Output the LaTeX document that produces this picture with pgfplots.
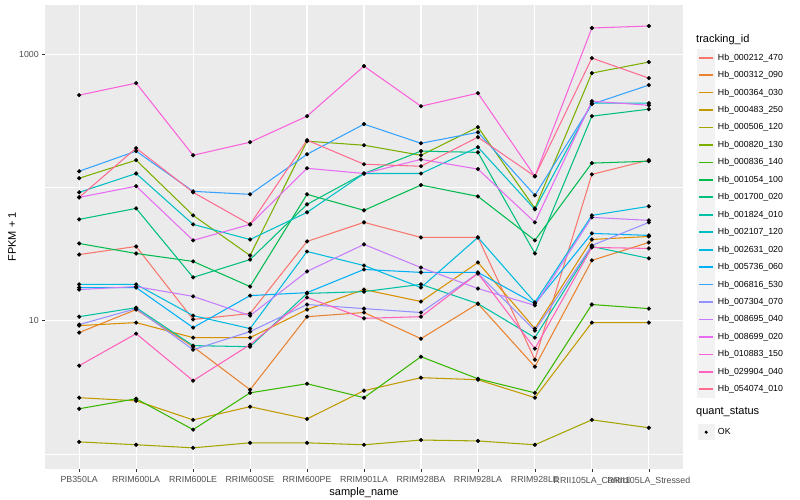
\documentclass[border=0pt]{standalone}
\usepackage{pgfplots}
\pgfplotsset{compat=1.18}
\usepackage{pgfplotstable}
\usepackage{fontspec}
\setmainfont{Liberation Sans}

% ggplot hue palette, 20 levels
\definecolor{c212}{HTML}{F8766D}
\definecolor{c312}{HTML}{EA8331}
\definecolor{c364}{HTML}{D89000}
\definecolor{c483}{HTML}{C09B00}
\definecolor{c506}{HTML}{A3A500}
\definecolor{c820}{HTML}{7CAE00}
\definecolor{c836}{HTML}{39B600}
\definecolor{c1054}{HTML}{00BB4E}
\definecolor{c1700}{HTML}{00BF7D}
\definecolor{c1824}{HTML}{00C1A3}
\definecolor{c2107}{HTML}{00BFC4}
\definecolor{c2631}{HTML}{00BAE0}
\definecolor{c5736}{HTML}{00B0F6}
\definecolor{c6816}{HTML}{35A2FF}
\definecolor{c7304}{HTML}{9590FF}
\definecolor{c8695}{HTML}{C77CFF}
\definecolor{c8699}{HTML}{E76BF3}
\definecolor{c10883}{HTML}{FA62DB}
\definecolor{c29904}{HTML}{FF62BC}
\definecolor{c54074}{HTML}{FF6C91}
\definecolor{panel}{HTML}{EBEBEB}
\definecolor{keybg}{HTML}{F2F2F2}
\definecolor{ticktext}{HTML}{4D4D4D}
\definecolor{tickline}{HTML}{333333}

% FPKM + 1, one row per sample (x = 0..10)
\pgfplotstableread{
x s212 s312 s364 s483 s506 s820 s836 s1054 s1700 s1824 s2107 s2631 s5736 s6816 s7304 s8695 s8699 s10883 s29904 s54074
0  31.3 8.13 9.17 2.64 1.23 117 2.18 37.9 57.5 10.7 91.7 18.7 17.7 132 9.33 17.1 84.1 492  4.59 84.1
1  36.0 12.1 9.66 2.50 1.17 160 2.59 31.9 69.5 12.5 127  18.7 17.7 187 12.3 18.0 102  605  7.98 197
2  10.2 6.37 7.45 1.80 1.11 61.6 1.52 27.8 21.1 6.49 52.7 10.9 8.86 93.3 6.05 15.2 40.0 174 3.54 91.7
3  11.3 3.03 7.45 2.26 1.21 30.8 2.87 18.0 28.7 6.37 40.6 8.71 15.4 88.6 8.27 10.9 52.7 218 6.60 52.7
4  39.3 10.7 12.1 1.83 1.21 222 3.36 88.6 74.5 16.0 64.9 33.0 16.2 177 13.2 23.4 139  342  14.9 226
5  54.6 11.5 17.1 2.98 1.17 207 2.64 67.2 127  16.5 127  25.9 24.2 298 12.3 37.3 127  812  10.4 149
6  42.1 7.32 13.9 3.73 1.27 174 5.36 104  187  18.7 127  17.7 23.0 214 11.5 25.0 162  406  10.7 144
7  42.1 13.4 27.3 3.60 1.25 283 3.66 85.5 183  13.4 200  42.1 23.0 259 22.6 17.4 137  509  22.6 238
8  5.09 4.51 8.71 2.64 1.17 69.5 2.87 40.0 31.9 7.45 68.3 13.7 13.4 87.1 8.41 13.0 54.6 121 6.16 121
9  125  28.3 40.6 9.66 1.80 720 13.2 152  342  36.0 428  61.6 45.1 421 36.6 59.5 443  1569 35.4 933
10 160  38.6 42.8 9.66 1.57 871 12.3 157  386  29.3 428  72.0 43.6 585 54.6 56.5 413  1624 34.8 660
}\fpkm

\pgfplotsset{
  ser/.style={color=#1, line width=1.05pt, mark=none},
  dot/.style={only marks, mark=*, mark size=1.9pt, black, forget plot},
}

\begin{document}
\begin{tikzpicture}
\useasboundingbox (0,0) rectangle (800pt,500pt);
\begin{axis}[
  at={(45pt,31pt)}, anchor=south west,
  width=638pt, height=464pt, scale only axis,
  ymode=log, ymin=0.77, ymax=2335,
  xmin=-0.6, xmax=10.6,
  xtick={0,...,10},
  xticklabels={PB350LA,RRIM600LA,RRIM600LE,RRIM600SE,RRIM600PE,RRIM901LA,RRIM928BA,RRIM928LA,RRIM928LE,RRII105LA\_Control,RRII105LA\_Stressed},
  ytick={10,1000}, yticklabels={10,1000},
  minor ytick={1,100},
  grid=both,
  major grid style={white, line width=1.1pt},
  minor grid style={white, line width=0.55pt},
  axis background/.style={fill=panel},
  axis line style={draw=none},
  tick align=outside,
  xtick pos=left, ytick pos=left,
  major tick length=2.75pt, minor tick length=0pt,
  tick style={tickline, line width=0.55pt},
  ticklabel style={font=\fontsize{8.8}{10}\selectfont, text=ticktext},
  xticklabel style={yshift=-1.5pt},
  xlabel={sample\_name}, ylabel={FPKM + 1},
  label style={font=\fontsize{11}{13}\selectfont},
  xlabel style={at={(axis description cs:0.5,-0.0517)}, anchor=center},
  ylabel style={at={(axis description cs:-0.0517,0.5)}, anchor=center},
  legend cell align=left,
  legend style={at={(axis description cs:1.02194,0.90517)}, anchor=north west,
    draw=none, fill=none, inner sep=0pt, outer sep=0pt,
    row sep=0pt, column sep=0pt,
    font=\fontsize{8.8}{10}\selectfont,
    nodes={inner xsep=2.6pt, inner ysep=0pt}},
  legend image code/.code={
    \fill[keybg] (0pt,-8.2pt) rectangle (17.3pt,8.2pt);
    \fill[#1, draw=none] (1.7pt,-0.85pt) rectangle (15.6pt,0.85pt);},
]
\addplot[ser=c212]   table[x=x,y=s212]{\fpkm};   \addlegendentry{Hb\_000212\_470}
\addplot[ser=c312]   table[x=x,y=s312]{\fpkm};   \addlegendentry{Hb\_000312\_090}
\addplot[ser=c364]   table[x=x,y=s364]{\fpkm};   \addlegendentry{Hb\_000364\_030}
\addplot[ser=c483]   table[x=x,y=s483]{\fpkm};   \addlegendentry{Hb\_000483\_250}
\addplot[ser=c506]   table[x=x,y=s506]{\fpkm};   \addlegendentry{Hb\_000506\_120}
\addplot[ser=c820]   table[x=x,y=s820]{\fpkm};   \addlegendentry{Hb\_000820\_130}
\addplot[ser=c836]   table[x=x,y=s836]{\fpkm};   \addlegendentry{Hb\_000836\_140}
\addplot[ser=c1054]  table[x=x,y=s1054]{\fpkm};  \addlegendentry{Hb\_001054\_100}
\addplot[ser=c1700]  table[x=x,y=s1700]{\fpkm};  \addlegendentry{Hb\_001700\_020}
\addplot[ser=c1824]  table[x=x,y=s1824]{\fpkm};  \addlegendentry{Hb\_001824\_010}
\addplot[ser=c2107]  table[x=x,y=s2107]{\fpkm};  \addlegendentry{Hb\_002107\_120}
\addplot[ser=c2631]  table[x=x,y=s2631]{\fpkm};  \addlegendentry{Hb\_002631\_020}
\addplot[ser=c5736]  table[x=x,y=s5736]{\fpkm};  \addlegendentry{Hb\_005736\_060}
\addplot[ser=c6816]  table[x=x,y=s6816]{\fpkm};  \addlegendentry{Hb\_006816\_530}
\addplot[ser=c7304]  table[x=x,y=s7304]{\fpkm};  \addlegendentry{Hb\_007304\_070}
\addplot[ser=c8695]  table[x=x,y=s8695]{\fpkm};  \addlegendentry{Hb\_008695\_040}
\addplot[ser=c8699]  table[x=x,y=s8699]{\fpkm};  \addlegendentry{Hb\_008699\_020}
\addplot[ser=c10883] table[x=x,y=s10883]{\fpkm}; \addlegendentry{Hb\_010883\_150}
\addplot[ser=c29904] table[x=x,y=s29904]{\fpkm}; \addlegendentry{Hb\_029904\_040}
\addplot[ser=c54074] table[x=x,y=s54074]{\fpkm}; \addlegendentry{Hb\_054074\_010}

% points on top of all lines
\addplot[dot] table[x=x,y=s212]{\fpkm};
\addplot[dot] table[x=x,y=s312]{\fpkm};
\addplot[dot] table[x=x,y=s364]{\fpkm};
\addplot[dot] table[x=x,y=s483]{\fpkm};
\addplot[dot] table[x=x,y=s506]{\fpkm};
\addplot[dot] table[x=x,y=s820]{\fpkm};
\addplot[dot] table[x=x,y=s836]{\fpkm};
\addplot[dot] table[x=x,y=s1054]{\fpkm};
\addplot[dot] table[x=x,y=s1700]{\fpkm};
\addplot[dot] table[x=x,y=s1824]{\fpkm};
\addplot[dot] table[x=x,y=s2107]{\fpkm};
\addplot[dot] table[x=x,y=s2631]{\fpkm};
\addplot[dot] table[x=x,y=s5736]{\fpkm};
\addplot[dot] table[x=x,y=s6816]{\fpkm};
\addplot[dot] table[x=x,y=s7304]{\fpkm};
\addplot[dot] table[x=x,y=s8695]{\fpkm};
\addplot[dot] table[x=x,y=s8699]{\fpkm};
\addplot[dot] table[x=x,y=s10883]{\fpkm};
\addplot[dot] table[x=x,y=s29904]{\fpkm};
\addplot[dot] table[x=x,y=s54074]{\fpkm};

% quant_status key
\addlegendimage{draw=none, fill=none, legend image code/.code={\path[draw=none, fill=none] (0pt,-13pt) rectangle (17.3pt,13pt);}}
\addlegendentry{}
\addlegendimage{draw=none, legend image code/.code={
  \fill[keybg] (0pt,-8.2pt) rectangle (17.3pt,8.2pt);
  \fill[black] (8.65pt,0pt) circle (1.7pt);}}
\addlegendentry{OK}
\end{axis}
\node[anchor=west, inner sep=0pt, font=\fontsize{11}{13}\selectfont] at (696pt,460pt) {tracking\_id};
\node[anchor=west, inner sep=0pt, font=\fontsize{11}{13}\selectfont] at (696pt,88pt) {quant\_status};
\end{tikzpicture}
\end{document}
